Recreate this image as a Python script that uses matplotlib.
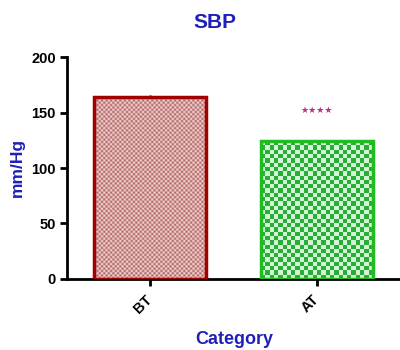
import numpy as np
import matplotlib
matplotlib.use('Agg')
import matplotlib.pyplot as plt
from matplotlib.colors import to_rgb

plt.rcParams['font.family'] = ['Liberation Sans', 'DejaVu Sans']

categories = ['BT', 'AT']
values = [164, 124]
errors = [1.5, 0.5]
edge_colors = ['#a00000', '#22bb22']
check_dark = ['#b06464', '#2aac3a']
check_light = ['#f7d8d8', '#d0f5d0']
cell_px = [2.3, 4.3]
blue = '#2020b8'

fig = plt.figure(figsize=(4, 3.5), dpi=100)
ax = fig.add_axes([0.1675, 0.203, 0.8325, 0.634])

x = np.arange(len(categories))
width = 0.67
bars = ax.bar(x, values, width, facecolor='none', edgecolor=edge_colors,
              linewidth=2.5, zorder=3)
ax.errorbar(x, values, yerr=[[0, 0], errors], fmt='none', ecolor=edge_colors,
            capsize=0, elinewidth=2, zorder=4)

# checkerboard fill clipped to each bar
px_per_unit_x = 333 / 2.0
px_per_unit_y = 222 / 200.0
for i, b in enumerate(bars):
    nx = max(1, int(round(width * px_per_unit_x / cell_px[i])))
    ny = max(1, int(round(values[i] * px_per_unit_y / cell_px[i])))
    yy, xx = np.mgrid[0:ny, 0:nx]
    mask = (xx + yy) % 2 == 0
    img = np.zeros((ny, nx, 3))
    img[mask] = to_rgb(check_dark[i])
    img[~mask] = to_rgb(check_light[i])
    im = ax.imshow(img, extent=(x[i] - width / 2, x[i] + width / 2, 0, values[i]),
                   origin='lower', interpolation='antialiased', aspect='auto', zorder=2)
    im.set_clip_path(b)
ax.set_xlim(-0.5, 1.5)
ax.set_ylim(0, 200)

ax.text(1, 152, '★★★★', ha='center', va='center', color='#b03585',
        fontsize=6.5, family='DejaVu Sans')

ax.spines['top'].set_visible(False)
ax.spines['right'].set_visible(False)
ax.spines['left'].set_linewidth(2)
ax.spines['bottom'].set_linewidth(2)
ax.set_yticks([0, 50, 100, 150, 200])
ax.set_xticks(x)
ax.set_xticklabels(categories, rotation=45, ha='right', va='center',
                   rotation_mode='anchor', fontsize=11, fontweight='bold')
ax.tick_params(axis='both', width=2, length=5, direction='out', labelsize=10.5)
ax.tick_params(axis='x', pad=8)
ax.tick_params(axis='y', pad=3)
for lab in ax.get_yticklabels():
    lab.set_fontweight('bold')

fig.text(215 / 400, 1 - 23 / 350, 'SBP', ha='center', va='center', color=blue,
         fontsize=15, fontweight='bold')
fig.text(17 / 400, 1 - 167 / 350, 'mm/Hg', ha='center', va='center', rotation=90,
         color=blue, fontsize=12.5, fontweight='bold')
fig.text(234 / 400, 1 - 340 / 350, 'Category', ha='center', va='center',
         color=blue, fontsize=13, fontweight='bold')

fig.savefig('out.png', dpi=100)
